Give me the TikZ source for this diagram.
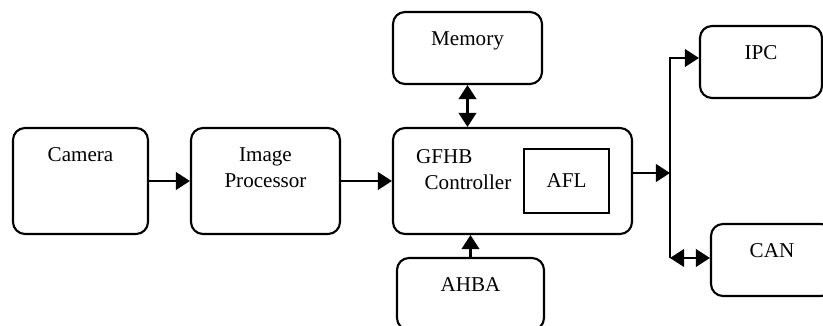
\documentclass[tikz,border=0pt]{standalone}
\usepackage{fontspec}
\setmainfont{Liberation Serif}
\usepackage{tikz}
\usetikzlibrary{positioning,arrows.meta}
\tikzset{
  flowarrow/.style={-{Triangle[length=10pt, width=12.5pt]}, line width=1.6pt},
  bothway/.style={{Triangle[length=10pt, width=12.5pt]}-{Triangle[length=10pt, width=12.5pt]}, line width=1.6pt},
  unitbox/.style={draw, rounded corners=0.3cm, line width=1.5pt, inner sep=0pt, minimum height=2.65cm},
  smallunit/.style={draw, rounded corners=0.3cm, line width=1.5pt, inner sep=0pt, minimum height=1.8cm},
  corebox/.style={draw, line width=1.5pt, inner sep=0pt, minimum width=2.125cm, minimum height=1.6cm},
  toplabel/.style={anchor=north, inner sep=0pt, yshift=-0.5cm, align=center}
}

\begin{document}
\begin{tikzpicture}[>=Triangle, every node/.style={font=\fontsize{15}{18.5}\selectfont}]
      \useasboundingbox (0,0) rectangle (20.575,8.15);
      \clip (0,0) rectangle (20.575,8.15);
      \node[unitbox, minimum width=3.375cm, label={[toplabel]north:Camera}] (cam) at (2.0125,3.625) {};
      \node[unitbox, minimum width=3.725cm, label={[toplabel]north:{Image\\Processor}}] (proc) at (6.6375,3.625) {};
      \node[unitbox, minimum width=5.975cm, label={[toplabel, anchor=north west, xshift=0.6cm, yshift=-0.05cm, align=left]north west:{GFHB\\\hspace{0.4em}Controller}}] (ctrl) at (12.8125,3.625) {};
      \node[corebox] (afl) at (14.1625,3.625) {AFL};
      \node[smallunit, minimum width=3.725cm, label={[toplabel]north:Memory}] (mem) at (11.6875,6.95) {};
      \node[smallunit, minimum width=3.675cm, label={[toplabel]north:AHBA}] (ahba) at (11.7625,0.8) {};
      \node[smallunit, minimum width=3.05cm, label={[toplabel]north:IPC}] (ipc) at (19.025,6.6) {};
      \node[smallunit, minimum width=3.05cm, label={[toplabel]north:CAN}] (can) at (19.3,1.65) {};
      \coordinate (busin) at (16.75,3.825);
      \coordinate (bustop) at (16.75,6.7);
      \coordinate (busbot) at (16.75,1.7);
      \draw[flowarrow] (cam) -- (proc);
      \draw[flowarrow] (proc) -- (ctrl);
      \draw[bothway] (mem.south) -- (mem.south |- ctrl.north);
      \draw[flowarrow] (ahba.north) -- (ahba.north |- ctrl.south);
      \draw[flowarrow] (ctrl.east |- busin) -- (busin);
      \draw[flowarrow] (busbot) -- (bustop) -- (bustop -| ipc.west);
      \draw[bothway] (busbot) -- (busbot -| can.west);
    \end{tikzpicture}
\end{document}
